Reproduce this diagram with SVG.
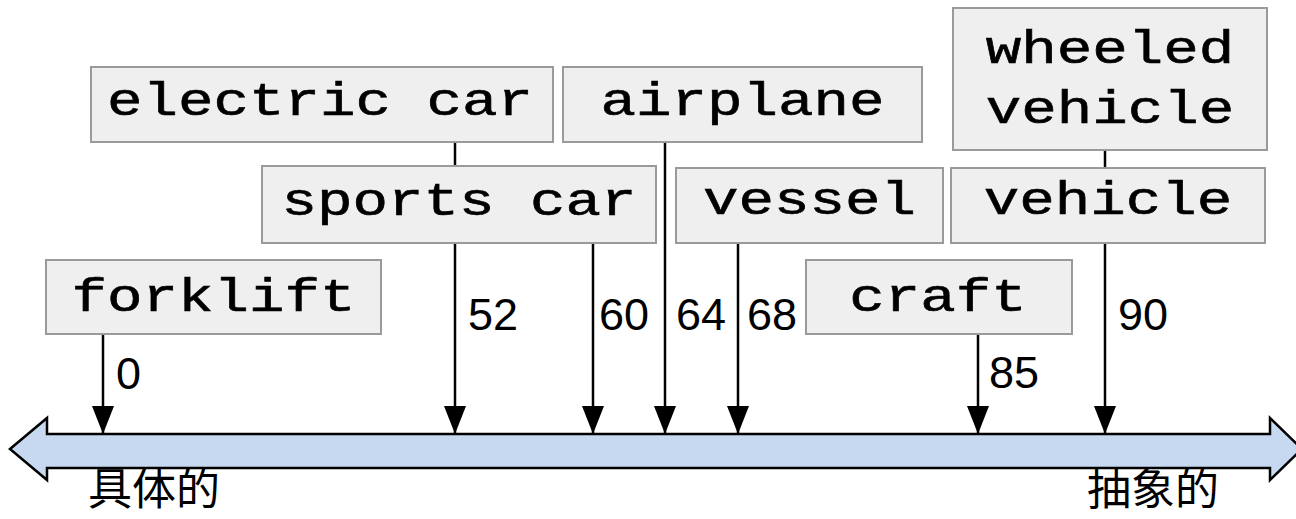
<svg xmlns="http://www.w3.org/2000/svg" width="1296" height="519" viewBox="0 0 1296 519">
<style>
.box{fill:#efefef;stroke:#9a9a9a;stroke-width:2}
.lbl{font-family:"Liberation Mono","Courier New",monospace;font-size:46px;fill:#000;text-anchor:middle;stroke:#000;stroke-width:0.6}
.num{font-family:"Liberation Sans",Arial,sans-serif;font-size:45px;fill:#000}
.cjk{font-family:"Noto Sans CJK SC","Noto Sans CJK JP",sans-serif;font-size:44px;fill:#000}
.ln{stroke:#000;stroke-width:2.5;fill:none}
.arr{marker-end:url(#ah)}
</style>
<defs>
<marker id="ah" markerUnits="userSpaceOnUse" markerWidth="28" markerHeight="22" viewBox="0 0 28 22" refX="28" refY="11" orient="auto">
<path d="M0,0 L28,11 L0,22 Z" fill="#000"/>
</marker>
</defs>
<rect width="1296" height="519" fill="#fff"/>
<g id="axis">
<path d="M10,449 L47,418 L47,434 L1270,434 L1270,418 L1302,449 L1270,480 L1270,468 L47,468 L47,480 Z" fill="#c6d9f1" stroke="#000" stroke-width="2.5" stroke-linejoin="miter"/>
<text class="cjk" x="88" y="505">具体的</text>
<text class="cjk" x="1087" y="505">抽象的</text>
</g>
<g id="connectors">
<line class="ln arr" x1="103" y1="334" x2="103" y2="434"/>
<line class="ln" x1="455" y1="142" x2="455" y2="166"/>
<line class="ln arr" x1="455" y1="243" x2="455" y2="434"/>
<line class="ln arr" x1="593" y1="243" x2="593" y2="434"/>
<line class="ln arr" x1="665" y1="142" x2="665" y2="434"/>
<line class="ln arr" x1="738" y1="243" x2="738" y2="434"/>
<line class="ln arr" x1="978" y1="334" x2="978" y2="434"/>
<line class="ln" x1="1105" y1="150" x2="1105" y2="168"/>
<line class="ln arr" x1="1105" y1="243" x2="1105" y2="434"/>
<text class="num" x="116" y="389">0</text>
<text class="num" x="468" y="330">52</text>
<text class="num" x="599" y="330">60</text>
<text class="num" x="676" y="330">64</text>
<text class="num" x="747" y="330">68</text>
<text class="num" x="989" y="388">85</text>
<text class="num" x="1118" y="330">90</text>
</g>
<g id="forklift">
<rect class="box" x="46" y="260" width="335" height="74"/>
<text class="lbl" x="213.5" y="311" textLength="284" lengthAdjust="spacingAndGlyphs">forklift</text>
</g>
<g id="electric-car">
<rect class="box" x="91" y="67" width="462" height="75"/>
<text class="lbl" x="320" y="115" textLength="426" lengthAdjust="spacingAndGlyphs">electric car</text>
</g>
<g id="sports-car">
<rect class="box" x="262" y="166" width="394" height="77"/>
<text class="lbl" x="459" y="215" textLength="355" lengthAdjust="spacingAndGlyphs">sports car</text>
</g>
<g id="airplane">
<rect class="box" x="563" y="67" width="359" height="75"/>
<text class="lbl" x="742.5" y="115" textLength="284" lengthAdjust="spacingAndGlyphs">airplane</text>
</g>
<g id="vessel">
<rect class="box" x="676" y="168" width="267" height="75"/>
<text class="lbl" x="809.5" y="214" textLength="213" lengthAdjust="spacingAndGlyphs">vessel</text>
</g>
<g id="craft">
<rect class="box" x="806" y="260" width="266" height="74"/>
<text class="lbl" x="938" y="311" textLength="177.5" lengthAdjust="spacingAndGlyphs">craft</text>
</g>
<g id="wheeled-vehicle">
<rect class="box" x="953" y="8" width="314" height="142"/>
<text class="lbl" x="1110" y="63" textLength="248.5" lengthAdjust="spacingAndGlyphs">wheeled</text>
<text class="lbl" x="1110" y="123" textLength="248.5" lengthAdjust="spacingAndGlyphs">vehicle</text>
</g>
<g id="vehicle">
<rect class="box" x="951" y="168" width="314" height="75"/>
<text class="lbl" x="1108" y="214" textLength="248.5" lengthAdjust="spacingAndGlyphs">vehicle</text>
</g>
</svg>
